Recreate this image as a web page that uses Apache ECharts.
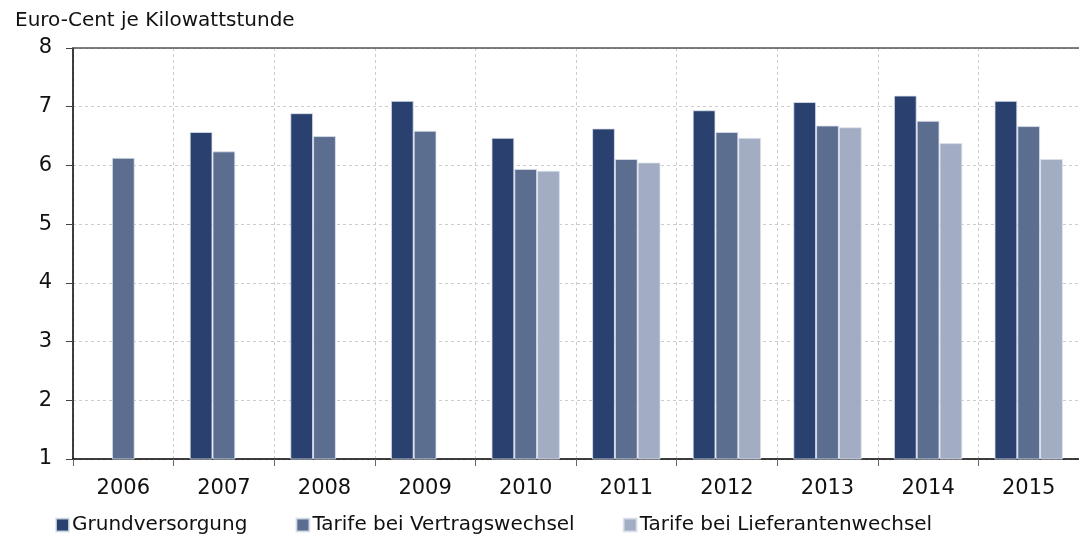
<!DOCTYPE html>
<html>
<head>
<meta charset="utf-8">
<script src="https://cdn.jsdelivr.net/npm/echarts@6/dist/echarts.min.js"></script>
<style>
  html, body { margin: 0; padding: 0; background: #fff; }
  #chart { width: 1079px; height: 539px; }
</style>
</head>
<body>
<div id="chart"></div>
<script>
// Jahre
var years = ['2006', '2007', '2008', '2009', '2010', '2011', '2012', '2013', '2014', '2015'];
// Euro-Cent je kWh
var grundversorgung = [null, 6.57, 6.89, 7.10, 6.47, 6.63, 6.94, 7.08, 7.19, 7.10];
var vertragswechsel = [6.13, 6.24, 6.50, 6.59, 5.94, 6.11, 6.57, 6.68, 6.76, 6.67];
var lieferantenwechsel = [null, null, null, null, 5.91, 6.05, 6.47, 6.65, 6.38, 6.11];

var seriesNames = ['Grundversorgung', 'Tarife bei Vertragswechsel', 'Tarife bei Lieferantenwechsel'];
var colors = ['#2a416f', '#5c6e8f', '#a2adc4'];
var fontFam = 'DejaVu Sans, sans-serif';

var chart = echarts.init(document.getElementById('chart'));

function bar(name, data, color) {
    return {
        name: name,
        type: 'bar',
        data: data,
        barGap: '0%',
        barCategoryGap: '32%',
        itemStyle: {
            color: color,
            borderColor: 'rgba(220,226,238,0.8)',
            borderWidth: 1
        }
    };
}

var option = {
    animation: false,
    color: colors,
    title: {
        text: 'Euro-Cent je Kilowattstunde',
        left: 10,
        top: 6,
        textStyle: { fontFamily: fontFam, fontSize: 20, fontWeight: 'normal', color: '#111' }
    },
    legend: {
        bottom: -1,
        left: 50,
        itemWidth: 13,
        itemHeight: 13,
        itemGap: 48,
        icon: 'rect',
        textStyle: { fontFamily: fontFam, fontSize: 20, color: '#111', padding: [0, 0, 0, -2] },
        data: seriesNames
    },
    grid: {
        left: 73,
        right: -11,
        top: 48,
        bottom: 80
    },
    xAxis: [
        {
            type: 'category',
            data: years,
            axisLine: { lineStyle: { color: '#000', width: 1.5 } },
            axisTick: { show: true, length: 7, lineStyle: { color: '#666' } },
            axisLabel: { fontFamily: fontFam, fontSize: 21, color: '#111', margin: 19 },
            splitLine: { show: true, lineStyle: { color: '#ccc', type: [3, 3] } }
        },
        {
            type: 'category',
            data: years,
            position: 'top',
            axisLine: { lineStyle: { color: '#555', width: 1.5 } },
            axisTick: { show: false },
            axisLabel: { show: false }
        }
    ],
    yAxis: {
        type: 'value',
        min: 1,
        max: 8,
        interval: 1,
        axisLine: { show: true, lineStyle: { color: '#000', width: 1.5 } },
        axisTick: { show: true, length: 7, lineStyle: { color: '#444' } },
        axisLabel: { fontFamily: fontFam, fontSize: 21, color: '#111', margin: 21 },
        splitLine: { show: true, lineStyle: { color: '#ccc', type: [3, 3] } }
    },
    series: [
        bar(seriesNames[0], grundversorgung, colors[0]),
        bar(seriesNames[1], vertragswechsel, colors[1]),
        bar(seriesNames[2], lieferantenwechsel, colors[2])
    ]
};

chart.setOption(option);
</script>
</body>
</html>
